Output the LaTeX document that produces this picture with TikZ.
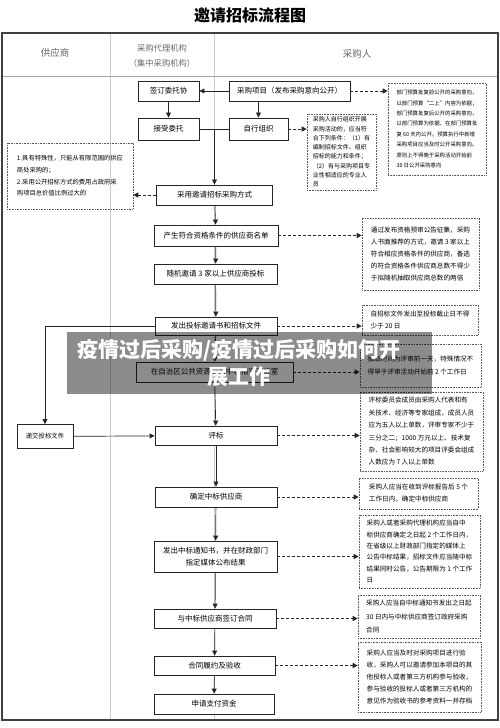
\documentclass[tikz,border=0pt]{standalone}
\usepackage{fontspec}
\setmainfont{Noto Sans CJK SC}
\usetikzlibrary{arrows.meta}

\begin{document}
\begin{tikzpicture}[x=1pt, y=-1pt,
    flowbox/.style={draw=black!85, line width=0.9pt, fill=white, font=\fontsize{7.5}{12}\selectfont,
        minimum width=122pt, minimum height=20pt, inner sep=1pt, align=center},
    notebox/.style={draw=black!65, densely dotted, line width=0.6pt, font=\fontsize{6.6}{12}\selectfont,
        align=left, inner sep=2pt},
    lanehead/.style={text=black!60, font=\fontsize{9.5}{15}\selectfont, align=center},
    flow/.style={-{Triangle[length=5pt,width=5pt]}, black!85, line width=0.7pt},
    hint/.style={flow, dash pattern=on 3pt off 2pt}]
    \useasboundingbox (0,0) rectangle (500,728);

    % Title
    \node[font=\fontsize{16}{18}\selectfont\bfseries] (title) at (250,15) {邀请招标流程图};

    % Frame and lanes
    \draw[black!20, line width=0.6pt] (110,33) -- (110,720);
    \draw[black!20, line width=0.6pt] (214.5,33) -- (214.5,720);
    \draw[black!35, line width=0.6pt] (2,76) -- (498,76);
    \draw[black!75, line width=1.2pt] (2,33) rectangle (498,720);

    % Lane headings
    \node[lanehead] (supplier) at (55,53) {供应商};
    \node[lanehead, font=\fontsize{8.3}{15}\selectfont] (agency) at (162,55.5) {采购代理机构\\（集中采购机构）};
    \node[lanehead] (buyer) at (357,54) {采购人};

    % Entrust or organise
    \node[flowbox, minimum width=61pt] (entrust) at (168.5,91) {签订委托协};
    \node[flowbox, minimum width=121pt] (project) at (289.5,91) {采购项目（发布采购意向公开）};
    \node[flowbox, minimum width=61pt, minimum height=22pt] (accepted) at (168.5,129) {接受委托};
    \node[flowbox, minimum width=59pt, minimum height=22pt] (self) at (258.5,129) {自行组织};

    % Main flow
    \node[flowbox, minimum width=116pt] (invite) at (214.5,195) {采用邀请招标采购方式};
    \node[flowbox, minimum width=124pt, minimum height=21pt] (qualify) at (216,235.5) {产生符合资格条件的供应商名单};
    \node[flowbox, minimum width=123pt] (random) at (215.5,274) {随机邀请 3 家以上供应商投标};
    \node[flowbox, minimum height=18pt] (issue) at (216,326) {发出投标邀请书和招标文件};
    \node[flowbox, minimum width=157pt] (open) at (214.5,372) {在自治区公共资源交易中心指定开标室};
    \node[flowbox, minimum height=19pt] (review) at (216,435.5) {评标};
    \node[flowbox] (decide) at (216,497) {确定中标供应商};
    \node[flowbox, minimum width=123pt, minimum height=31pt] (notify) at (215.5,556.5) {发出中标通知书，并在财政部门\\指定媒体公布结果};
    \node[flowbox, minimum height=19pt] (sign) at (215,618.5) {与中标供应商签订合同};
    \node[flowbox, minimum width=121pt, minimum height=19pt] (accept) at (214.5,665.5) {合同履约及验收};
    \node[flowbox, minimum width=120pt] (pay) at (214,704) {申请支付资金};
    \node[flowbox, minimum width=56pt, minimum height=24pt, font=\fontsize{6.4}{8}\selectfont] (submit) at (45,436.5) {递交投标文件};

    % Notes
    \node[notebox, minimum width=98pt, minimum height=92pt, font=\fontsize{5.4}{10.4}\selectfont] (noteA) at (437,129) {部门预算批复前公开的采购意向，\\以部门预算“二上”内容为依据；\\部门预算批复后公开的采购意向，\\以部门预算为依据，在部门预算批\\复 60 天内公开。预算执行中新增\\采购项目应当及时公开采购意向。\\原则上不得晚于采购活动开始前\\30 日公开采购意向};
    \node[notebox, minimum width=69pt, minimum height=76pt, font=\fontsize{6}{9.3}\selectfont] (noteB) at (341.5,152) {采购人自行组织开展\\采购活动的，应当符\\合下列条件：（1）有\\编制招标文件、组织\\招标的能力和条件；\\（2）有与采购项目专\\业性相适应的专业人\\员};
    \node[notebox, minimum width=126pt, minimum height=66pt, font=\fontsize{6.3}{11.7}\selectfont] (noteC) at (70,176) {1.具有特殊性，只能从有限范围的供应\\商处采购的；\\2.采用公开招标方式的费用占政府采\\购项目总价值比例过大的};
    \node[notebox, minimum width=117pt, minimum height=72pt] (noteD) at (420.5,254) {通过发布资格预审公告征集，采购\\人书面推荐的方式，邀请 3 家以上\\符合相应资格条件的供应商，备选\\的符合资格条件供应商总数不得少\\于拟随机抽取供应商总数的两倍};
    \node[notebox, minimum width=116pt, minimum height=30pt] (noteE) at (420,320) {自招标文件发出至投标截止日不得\\少于 20 日};
    \node[notebox, minimum width=121pt, minimum height=43pt, font=\fontsize{6.6}{13}\selectfont] (noteF) at (420.5,365.5) {抽取时间为评审前一天，特殊情况不\\得早于评审活动开始前 2 个工作日};
    \node[notebox, minimum width=123pt, minimum height=79pt, font=\fontsize{6.6}{12.4}\selectfont] (noteG) at (421.5,431.5) {评标委员会成员由采购人代表和有\\关技术、经济等专家组成，成员人员\\应为五人以上单数，评审专家不少于\\三分之二；1000 万元以上、技术复\\杂、社会影响较大的项目评委会组成\\人数应为 7 人以上单数};
    \node[notebox, minimum width=119pt, minimum height=31pt] (noteH) at (418.5,493.5) {采购人应当在收到评标报告后 5 个\\工作日内，确定中标供应商};
    \node[notebox, minimum width=121pt, minimum height=73pt, font=\fontsize{6.6}{11.3}\selectfont] (noteI) at (419.5,551.5) {采购人或者采购代理机构应当自中\\标供应商确定之日起 2 个工作日内，\\在省级以上财政部门指定的媒体上\\公告中标结果，招标文件应当随中标\\结果同时公告，公告期限为 1 个工作\\日};
    \node[notebox, minimum width=122pt, minimum height=43pt, font=\fontsize{6.6}{13.3}\selectfont] (noteJ) at (419,616.5) {采购人应当自中标通知书发出之日起\\30 日内与中标供应商签订政府采购\\合同};
    \node[notebox, minimum width=123pt, minimum height=70pt] (noteK) at (419.5,677) {采购人应当及时对采购项目进行验\\收，采购人可以邀请参加本项目的其\\他投标人或者第三方机构参与验收，\\参与验收的投标人或者第三方机构的\\意见作为验收书的参考资料一并存档};

    % Solid connectors
    \draw[flow] (project) -- (entrust);
    \draw[flow] (project.south -| self.north) -- (self.north);
    \draw[flow] (entrust) -- (accepted);
    \draw[black!85, line width=0.7pt] (accepted) -- (self);
    \draw[flow] (accepted.east -| invite.north) -- (invite.north);
    \draw[flow] (invite) -- (qualify);
    \draw[flow] (qualify) -- (random);
    \draw[flow] (random) -- (issue);
    \draw[flow] (issue) -- (open);
    \draw[flow] (open) -- (review);
    \draw[flow] (issue.west) -| (submit.north);
    \draw[flow] (submit) -- (review);
    \draw[flow] (review) -- (decide);
    \draw[flow] (decide) -- (notify);
    \draw[flow] (notify) -- (sign);
    \draw[flow] (sign) -- (accept);
    \draw[flow] (accept) -- (pay);

    % Dashed connectors to notes
    \draw[hint] (project.east) -- (project.east -| noteA.west);
    \draw[hint] (self.east) -- (self.east -| noteB.west);
    \draw[hint] (invite.west) -- (invite.west -| noteC.east);
    \draw[hint] (qualify.east) -- (qualify.east -| noteD.west);
    \draw[hint] (issue.east) -- (issue.east -| noteE.west);
    \draw[hint] (open.east) -- (open.east -| noteF.west);
    \draw[hint] (review.east) -- (review.east -| noteG.west);
    \draw[hint] (decide.east) -- (decide.east -| noteH.west);
    \draw[hint] (notify.east) -- (notify.east -| noteI.west);
    \draw[hint] (sign.east) -- (sign.east -| noteJ.west);
    \draw[hint] (accept.east) -- (accept.east -| noteK.west);

    % Overlay banner
    \fill[black, opacity=0.45] (67,332) rectangle (432,394);
    \node[text=white, font=\fontsize{21}{27}\selectfont\bfseries, align=center] (banner) at (239,363.5) {疫情过后采购/疫情过后采购如何开\\展工作};
\end{tikzpicture}
\end{document}
